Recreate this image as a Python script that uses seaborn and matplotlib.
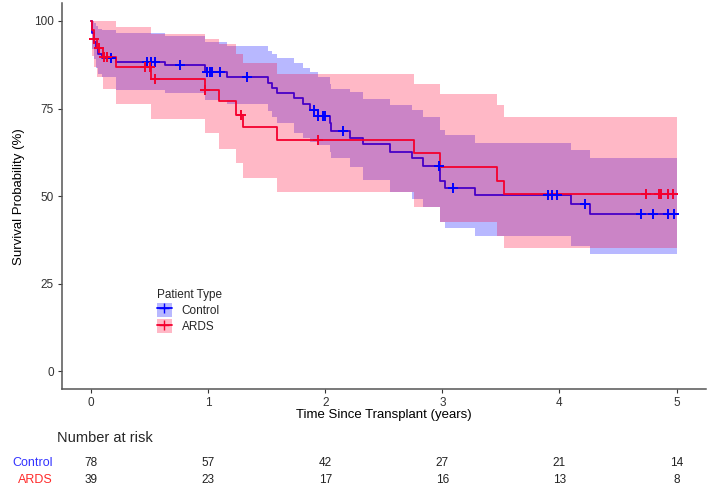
import numpy as np
import pandas as pd
import matplotlib
matplotlib.use("Agg")
import matplotlib.pyplot as plt
import matplotlib.transforms as mtransforms
from matplotlib.lines import Line2D
from matplotlib.patches import Patch
import seaborn as sns

# Kaplan-Meier steps (time in years, survival in %)
ctrl_time = [0, 0.01, 0.02, 0.04, 0.06, 0.09, 0.21, 0.63, 0.97, 1.16,
             1.51, 1.54, 1.59, 1.73, 1.81, 1.87, 1.94, 2.04, 2.05, 2.21,
             2.32, 2.55, 2.74, 2.83, 2.98, 3.02, 3.28, 4.10, 4.26, 5.0]
ctrl_surv = [100, 96.5, 94.1, 92.2, 90.7, 89.5, 88.4, 87.4, 85.5, 84.1,
             82.4, 80.8, 79.5, 77.9, 76.3, 74.6, 72.9, 70.8, 68.7, 66.7,
             64.8, 62.6, 60.8, 58.6, 54.4, 52.4, 50.3, 47.9, 45.0, 45.0]
ctrl_upper = [100, 100, 99.5, 98.5, 97.8, 97.5, 96.5, 95.8, 94.1, 92.9,
              91.5, 90.5, 89.3, 88.0, 86.5, 85.5, 84.1, 82.0, 80.5, 79.8,
              77.6, 76.0, 74.6, 72.7, 69.0, 67.4, 65.2, 63.3, 61.0, 61.0]
ctrl_lower = [100, 92, 89, 86.5, 85, 84, 80.3, 79.3, 77.5, 76.3,
              74.3, 72.5, 71, 68, 66.5, 65.5, 64.5, 62.5, 61, 58.2,
              54.5, 51.2, 49.3, 46.9, 42.7, 40.8, 38.6, 35.8, 33.4, 33.4]

ards_time = [0, 0.01, 0.02, 0.05, 0.10, 0.21, 0.51, 0.97, 1.09, 1.24, 1.30,
             1.59, 2.76, 2.98, 3.47, 3.53, 5.0]
ards_surv = [100, 97.4, 94.9, 92.3, 89.7, 86.9, 83.4, 80.3, 77.2, 73.3, 69.8,
             66.0, 62.2, 58.2, 54.4, 50.5, 50.5]
ards_upper = [100, 100, 100, 100, 100, 98.4, 96.3, 94.9, 93.3, 90.7, 87.9,
              85.0, 82.1, 79.1, 76.0, 72.7, 72.7]
ards_lower = [100, 90, 87, 84, 80.5, 76.3, 72.0, 67.9, 63.6, 59.5, 55.2,
              51.2, 46.9, 42.7, 38.6, 35.2, 35.2]

# censoring times
ctrl_censor = [0.17, 0.48, 0.51, 0.54, 0.76, 0.99, 1.01, 1.03, 1.10, 1.33,
               1.90, 1.94, 1.98, 2.00, 2.15, 2.97, 3.09, 3.90, 3.94, 3.98,
               4.22, 4.70, 4.80, 4.93, 4.98]
ards_censor = [0.02, 0.07, 0.11, 0.13, 0.46, 0.50, 0.54, 0.97, 1.28, 1.94,
               4.74, 4.85, 4.87, 4.93, 4.97]

# number at risk table
risk_times = [0, 1, 2, 3, 4, 5]
ctrl_risk = [78, 57, 42, 27, 21, 14]
ards_risk = [39, 23, 17, 16, 13, 8]

groups = ["Control", "ARDS"]
colors = {"Control": "#0000ff", "ARDS": "#f5002e"}
fills = {"Control": "#0000ff", "ARDS": "#ff0033"}
text_colors = {"Control": "#3333ff", "ARDS": "#ff2a2a"}

sns.set_theme(style="ticks")
plt.rcParams["font.family"] = ["Liberation Sans", "DejaVu Sans"]

curves = pd.concat([
    pd.DataFrame({"time": ctrl_time, "surv": ctrl_surv, "upper": ctrl_upper,
                  "lower": ctrl_lower, "group": "Control"}),
    pd.DataFrame({"time": ards_time, "surv": ards_surv, "upper": ards_upper,
                  "lower": ards_lower, "group": "ARDS"}),
], ignore_index=True)


def censor_frame(times, grp):
    d = curves[curves["group"] == grp]
    idx = np.searchsorted(d["time"].values, times, side="right") - 1
    return pd.DataFrame({"time": times, "surv": d["surv"].values[idx], "group": grp})


marks = pd.concat([censor_frame(ctrl_censor, "Control"),
                   censor_frame(ards_censor, "ARDS")], ignore_index=True)

fig = plt.figure(figsize=(7.09, 4.88), dpi=100)
ax = fig.add_axes([0.0875, 0.203, 0.908, 0.79])

z = 1
for g in groups:
    d = curves[curves["group"] == g]
    ax.fill_between(d["time"], d["lower"], d["upper"], step="post",
                    color=fills[g], alpha=0.28, linewidth=0, zorder=z)
    sns.lineplot(data=d, x="time", y="surv", ax=ax, color=colors[g],
                 drawstyle="steps-post", estimator=None, sort=False,
                 linewidth=1.3, zorder=z + 1, legend=False)
    z += 2

for g in groups:
    sns.scatterplot(data=marks[marks["group"] == g], x="time", y="surv", ax=ax,
                    marker="+", color=colors[g], s=50, linewidth=1.4,
                    zorder=10, legend=False)

ax.set_xlim(-0.25, 5.25)
ax.set_ylim(-5, 105)
ax.set_xticks(risk_times)
ax.set_yticks([0, 25, 50, 75, 100])
ax.set_xlabel("Time Since Transplant (years)", fontsize=9.5, color="black", labelpad=0)
ax.set_ylabel("Survival Probability (%)", fontsize=9.5, color="black", labelpad=6)
ax.tick_params(axis="both", labelsize=8.5, colors="#333333", length=3, width=0.8, pad=3)
sns.despine(ax=ax)
for sp in ["left", "bottom"]:
    ax.spines[sp].set_color("#555555")
    ax.spines[sp].set_linewidth(1.1)

handles = [(Patch(facecolor=fills[g], alpha=0.28, linewidth=0),
            Line2D([], [], color=colors[g], marker="+", markersize=7, linewidth=1.3))
           for g in groups]
leg = ax.legend(handles, groups, title="Patient Type", frameon=False,
                loc="upper left", bbox_to_anchor=(152 / 709, 1 - 284 / 488),
                bbox_transform=fig.transFigure, fontsize=8.5, title_fontsize=8.5,
                handlelength=1.3, handleheight=1.4, handletextpad=0.8,
                labelspacing=0.2, borderaxespad=0)
leg._legend_box.align = "left"

# number at risk
fig.text(57 / 709, 1 - 438 / 488, "Number at risk", fontsize=10.5,
         ha="left", va="center")
trans = mtransforms.blended_transform_factory(ax.transData, fig.transFigure)
rows = {"Control": (ctrl_risk, 1 - 463 / 488), "ARDS": (ards_risk, 1 - 480 / 488)}
for g in groups:
    vals, yy = rows[g]
    fig.text(53 / 709, yy, g, fontsize=9, color=text_colors[g], ha="right", va="center")
    for t, n in zip(risk_times, vals):
        ax.text(t, yy, str(n), transform=trans, fontsize=8.5, ha="center",
                va="center", color="#222222", clip_on=False)

fig.savefig("out.png", dpi=100)
